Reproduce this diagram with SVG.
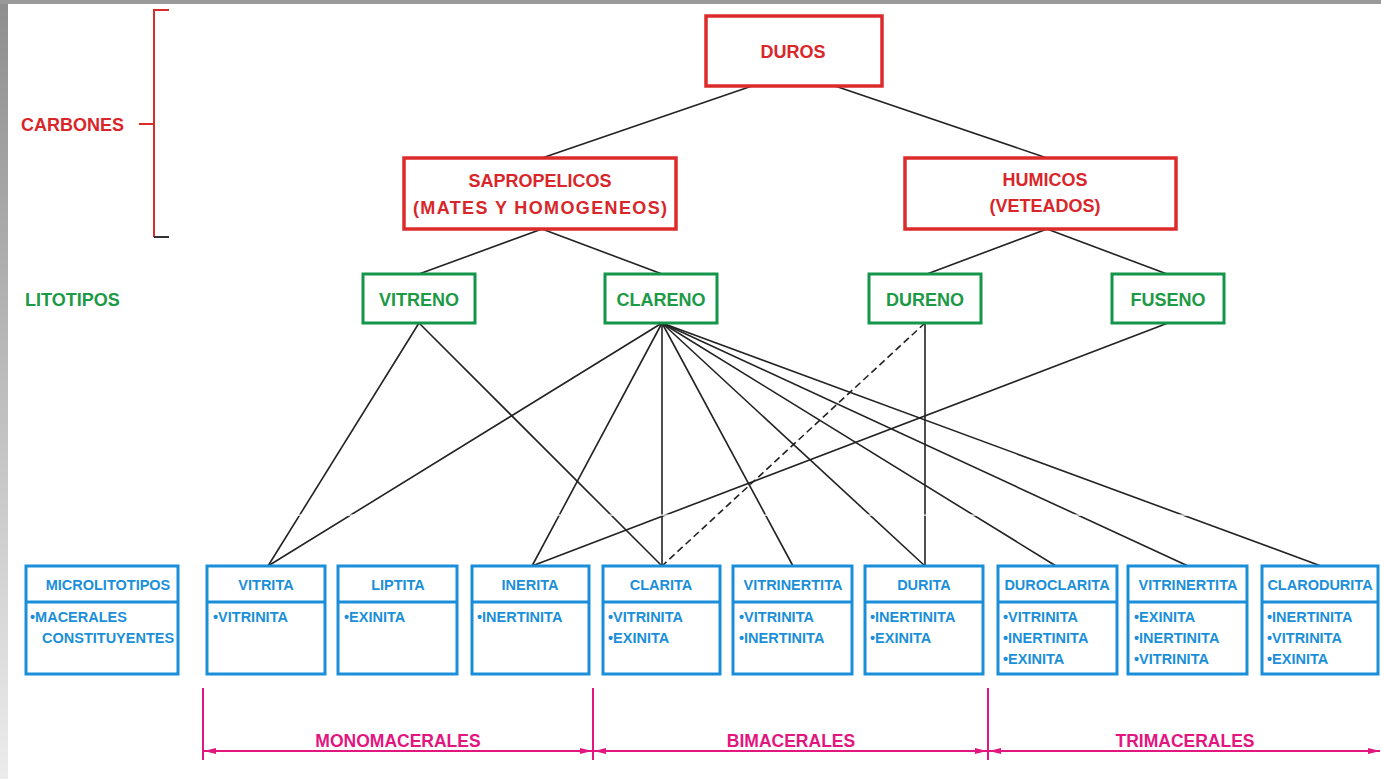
<svg xmlns="http://www.w3.org/2000/svg" width="1381" height="779" viewBox="0 0 1381 779">
<defs>
<linearGradient id="edge" x1="0" y1="0" x2="0" y2="1">
<stop offset="0" stop-color="#8e8e8e"/>
<stop offset="1" stop-color="#ececec"/>
</linearGradient>
<marker id="arr" viewBox="0 0 12 6" refX="12" refY="3" markerWidth="12" markerHeight="6" markerUnits="userSpaceOnUse" orient="auto-start-reverse">
<path d="M0,0 L12,3 L0,6 z" fill="#e3157f"/>
</marker>
<style>
text{font-family:"Liberation Sans",Arial,sans-serif;font-weight:bold}
.red{fill:#d8262a;font-size:18px}
.grn{fill:#1c9a45;font-size:18px}
.blu{fill:#1b8fd9;font-size:14.5px}
.mag{fill:#e3157f;font-size:17.5px}
.rbox{fill:#fff;stroke:#dc2b2b;stroke-width:3.5}
.gbox{fill:#fff;stroke:#14964a;stroke-width:3}
.bbox{fill:#fff;stroke:#1a8ed8;stroke-width:3}
.c{stroke:#222;stroke-width:1.6;fill:none}
.m{stroke:#e3157f;stroke-width:2;fill:none}
.mid{text-anchor:middle}
</style>
</defs>
<rect width="1381" height="779" fill="#fff"/>
<rect x="0" y="0" width="8" height="779" fill="url(#edge)"/>
<rect x="0" y="0" width="1381" height="4" fill="#999"/>

<g id="connectors">
<line class="c" x1="752" y1="86" x2="542" y2="158"/>
<line class="c" x1="835" y1="86" x2="1047" y2="158"/>
<line class="c" x1="542" y1="229" x2="419" y2="274"/>
<line class="c" x1="542" y1="229" x2="662" y2="274"/>
<line class="c" x1="1047" y1="229" x2="927" y2="274"/>
<line class="c" x1="1047" y1="229" x2="1167" y2="274"/>
<line class="c" x1="419" y1="323" x2="268" y2="566"/>
<line class="c" x1="419" y1="323" x2="662" y2="566"/>
<line class="c" x1="662" y1="323" x2="268" y2="566"/>
<line class="c" x1="662" y1="323" x2="532" y2="566"/>
<line class="c" x1="662" y1="323" x2="662" y2="566"/>
<line class="c" x1="662" y1="323" x2="793" y2="566"/>
<line class="c" x1="662" y1="323" x2="925" y2="566"/>
<line class="c" x1="662" y1="323" x2="1056" y2="566"/>
<line class="c" x1="662" y1="323" x2="1188" y2="566"/>
<line class="c" x1="662" y1="323" x2="1321" y2="566"/>
<line class="c" x1="925" y1="323" x2="925" y2="566"/>
<line class="c" x1="925" y1="323" x2="662" y2="566" stroke-dasharray="7 4"/>
<line class="c" x1="1168" y1="323" x2="532" y2="566"/>
<rect x="190" y="514.5" width="1030" height="1.2" fill="#fff"/>
</g>

<g id="carbones-label">
<text class="red" x="21" y="130.5">CARBONES</text>
<path d="M139,124 H154 M169,10 H154 V237" fill="none" stroke="#dc2b2b" stroke-width="2"/>
<path d="M154,237 H169" fill="none" stroke="#333" stroke-width="2"/>
</g>
<g id="litotipos-label">
<text class="grn" x="25" y="305.5">LITOTIPOS</text>
</g>

<g id="duros">
<rect class="rbox" x="706" y="16" width="176" height="70"/>
<text class="red mid" x="793" y="57.5">DUROS</text>
</g>
<g id="sapropelicos">
<rect class="rbox" x="404" y="158" width="272" height="71"/>
<text class="red mid" x="540" y="186.5">SAPROPELICOS</text>
<text class="red mid" x="540" y="213.5" textLength="254" lengthAdjust="spacing">(MATES Y HOMOGENEOS)</text>
</g>
<g id="humicos">
<rect class="rbox" x="905" y="158" width="271" height="71"/>
<text class="red mid" x="1045" y="185.5">HUMICOS</text>
<text class="red mid" x="1045" y="211.5">(VETEADOS)</text>
</g>

<g id="vitreno">
<rect class="gbox" x="363" y="274" width="112" height="49"/>
<text class="grn mid" x="419" y="305.5">VITRENO</text>
</g>
<g id="clareno">
<rect class="gbox" x="605" y="274" width="112" height="49"/>
<text class="grn mid" x="661" y="305.5">CLARENO</text>
</g>
<g id="dureno">
<rect class="gbox" x="869" y="274" width="112" height="49"/>
<text class="grn mid" x="925" y="305.5">DURENO</text>
</g>
<g id="fuseno">
<rect class="gbox" x="1112" y="274" width="112" height="49"/>
<text class="grn mid" x="1168" y="305.5">FUSENO</text>
</g>

<g id="microlitotipos">
<rect class="bbox" x="26" y="566" width="152" height="108"/>
<line class="bbox" x1="26" y1="602" x2="178" y2="602"/>
<text class="blu mid" x="108" y="590">MICROLITOTIPOS</text>
<text class="blu" x="30" y="622">•MACERALES</text>
<text class="blu" x="42" y="643">CONSTITUYENTES</text>
</g>
<g id="vitrita">
<rect class="bbox" x="207" y="566" width="118" height="108"/>
<line class="bbox" x1="207" y1="602" x2="325" y2="602"/>
<text class="blu mid" x="266" y="590">VITRITA</text>
<text class="blu" x="213" y="622">•VITRINITA</text>
</g>
<g id="liptita">
<rect class="bbox" x="338" y="566" width="119" height="108"/>
<line class="bbox" x1="338" y1="602" x2="457" y2="602"/>
<text class="blu mid" x="398" y="590">LIPTITA</text>
<text class="blu" x="344" y="622">•EXINITA</text>
</g>
<g id="inerita">
<rect class="bbox" x="472" y="566" width="117" height="108"/>
<line class="bbox" x1="472" y1="602" x2="589" y2="602"/>
<text class="blu mid" x="530" y="590">INERITA</text>
<text class="blu" x="477" y="622">•INERTINITA</text>
</g>
<g id="clarita">
<rect class="bbox" x="603" y="566" width="117" height="108"/>
<line class="bbox" x1="603" y1="602" x2="720" y2="602"/>
<text class="blu mid" x="661" y="590">CLARITA</text>
<text class="blu" x="608" y="622">•VITRINITA</text>
<text class="blu" x="608" y="643">•EXINITA</text>
</g>
<g id="vitrinertita-1">
<rect class="bbox" x="733" y="566" width="119" height="108"/>
<line class="bbox" x1="733" y1="602" x2="852" y2="602"/>
<text class="blu mid" x="793" y="590">VITRINERTITA</text>
<text class="blu" x="739" y="622">•VITRINITA</text>
<text class="blu" x="739" y="643">•INERTINITA</text>
</g>
<g id="durita">
<rect class="bbox" x="865" y="566" width="118" height="108"/>
<line class="bbox" x1="865" y1="602" x2="983" y2="602"/>
<text class="blu mid" x="924" y="590">DURITA</text>
<text class="blu" x="870" y="622">•INERTINITA</text>
<text class="blu" x="870" y="643">•EXINITA</text>
</g>
<g id="duroclarita">
<rect class="bbox" x="998" y="566" width="119" height="108"/>
<line class="bbox" x1="998" y1="602" x2="1117" y2="602"/>
<text class="blu mid" x="1057" y="590">DUROCLARITA</text>
<text class="blu" x="1003" y="622">•VITRINITA</text>
<text class="blu" x="1003" y="643">•INERTINITA</text>
<text class="blu" x="1003" y="664">•EXINITA</text>
</g>
<g id="vitrinertita-2">
<rect class="bbox" x="1128" y="566" width="119" height="108"/>
<line class="bbox" x1="1128" y1="602" x2="1247" y2="602"/>
<text class="blu mid" x="1188" y="590">VITRINERTITA</text>
<text class="blu" x="1134" y="622">•EXINITA</text>
<text class="blu" x="1134" y="643">•INERTINITA</text>
<text class="blu" x="1134" y="664">•VITRINITA</text>
</g>
<g id="clarodurita">
<rect class="bbox" x="1262" y="566" width="116" height="108"/>
<line class="bbox" x1="1262" y1="602" x2="1378" y2="602"/>
<text class="blu mid" x="1320" y="590">CLARODURITA</text>
<text class="blu" x="1267" y="622">•INERTINITA</text>
<text class="blu" x="1267" y="643">•VITRINITA</text>
<text class="blu" x="1267" y="664">•EXINITA</text>
</g>

<g id="clasificacion">
<line class="m" x1="203" y1="688" x2="203" y2="760"/>
<line class="m" x1="593" y1="688" x2="593" y2="760"/>
<line class="m" x1="988" y1="688" x2="988" y2="760"/>
<line class="m" x1="204" y1="751" x2="592" y2="751" marker-start="url(#arr)" marker-end="url(#arr)"/>
<line class="m" x1="594" y1="751" x2="987" y2="751" marker-start="url(#arr)" marker-end="url(#arr)"/>
<line class="m" x1="989" y1="751" x2="1380" y2="751" marker-start="url(#arr)" marker-end="url(#arr)"/>
<text class="mag mid" x="398" y="747">MONOMACERALES</text>
<text class="mag mid" x="791" y="747">BIMACERALES</text>
<text class="mag mid" x="1185" y="747">TRIMACERALES</text>
</g>
</svg>
